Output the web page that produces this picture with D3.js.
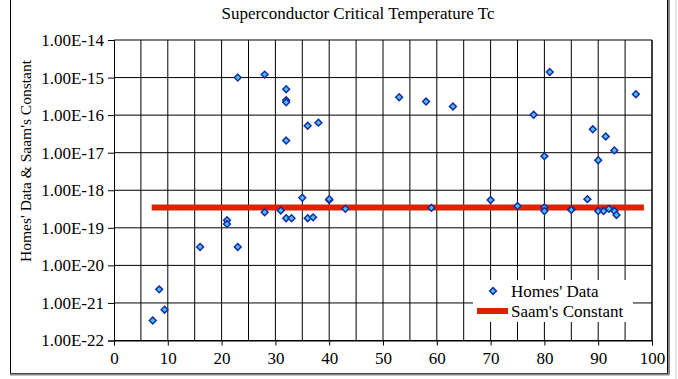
<!DOCTYPE html>
<html><head><meta charset="utf-8">
<script src="https://cdn.jsdelivr.net/npm/d3@7"></script>
<style>body{margin:0;background:#fff}svg{display:block}text{font-family:"Liberation Serif","Times New Roman",serif;fill:#000}</style>
</head><body><svg id="c" width="678" height="379"></svg>
<script>
const title = "Superconductor Critical Temperature Tc";
const yTitle = "Homes' Data & Saam's Constant";
const seriesNames = ["Homes' Data", "Saam's Constant"];
const homesX = [7.2, 8.4, 9.4, 16, 21, 21, 23, 23, 28, 28, 31, 32, 32, 32, 32, 32, 33, 35, 36, 36, 37, 38, 40, 40, 43, 53, 58, 59, 63, 70, 75, 78, 80, 80, 80, 81, 85, 85, 88, 89, 90, 90, 91, 91.4, 92, 93, 93, 93.4, 97];
const homesY = [3.4e-22, 2.3e-21, 6.6e-22, 3.1e-20, 1.6e-19, 1.26e-19, 3.1e-20, 1.0e-15, 1.2e-15, 2.6e-19, 2.9e-19, 4.9e-16, 2.5e-16, 2.2e-16, 2.1e-17, 1.8e-19, 1.8e-19, 6.3e-19, 5.2e-17, 1.8e-19, 1.9e-19, 6.3e-17, 5.5e-19, 5.8e-19, 3.2e-19, 3.0e-16, 2.3e-16, 3.4e-19, 1.7e-16, 5.5e-19, 3.8e-19, 1.02e-16, 8.1e-18, 3.5e-19, 2.8e-19, 1.4e-15, 3.1e-19, 3.0e-19, 5.8e-19, 4.2e-17, 6.3e-18, 2.8e-19, 2.8e-19, 2.7e-17, 3.2e-19, 1.15e-17, 2.8e-19, 2.2e-19, 3.6e-16];
const saamX = [7, 98.5];
const saamY = [3.5e-19, 3.5e-19];
const xTicks = [0, 10, 20, 30, 40, 50, 60, 70, 80, 90, 100];
const xGrid = [5, 10, 15, 20, 25, 30, 35, 40, 45, 50, 55, 60, 65, 70, 75, 80, 85, 90, 95, 100];
const yTicks = [1e-22, 1e-21, 1e-20, 1e-19, 1e-18, 1e-17, 1e-16, 1e-15, 1e-14];
const yTickLabels = ["1.00E-22", "1.00E-21", "1.00E-20", "1.00E-19", "1.00E-18", "1.00E-17", "1.00E-16", "1.00E-15", "1.00E-14"];

const FONT = '"Liberation Serif","Times New Roman",serif';
const svg = d3.select("#c");
const L = 114, R = 652, T = 40, B = 340.5;
const x = d3.scaleLinear().domain([0, 100]).range([L, R]);
const y = d3.scaleLog().domain([1e-22, 1e-14]).range([B, T]);

// outer frame
svg.append("rect").attr("x", 10.5).attr("y", -2).attr("width", 657).attr("height", 375.5)
  .attr("fill", "none").attr("stroke", "#000").attr("stroke-width", 1);
svg.append("line").attr("x1", 10).attr("x2", 669).attr("y1", 374.5).attr("y2", 374.5).attr("stroke", "#888").attr("stroke-width", 2);
svg.append("line").attr("x1", 669).attr("x2", 669).attr("y1", 0).attr("y2", 375).attr("stroke", "#888").attr("stroke-width", 2);
svg.append("line").attr("x1", 676).attr("x2", 676).attr("y1", 0).attr("y2", 379).attr("stroke", "#ccc").attr("stroke-width", 1);

// title
svg.append("text").attr("x", 358).attr("y", 19).attr("text-anchor", "middle")
  .attr("font-family", FONT).attr("font-size", 17).text(title);

// gridlines
const g = svg.append("g");
g.selectAll(".vg").data(xGrid).join("line")
  .attr("x1", d => x(d)).attr("x2", d => x(d)).attr("y1", T).attr("y2", B)
  .attr("stroke", "#000").attr("stroke-width", 1);
g.selectAll(".hg").data(yTicks).join("line")
  .attr("x1", L).attr("x2", R).attr("y1", d => y(d)).attr("y2", d => y(d))
  .attr("stroke", "#000").attr("stroke-width", 1);

// axes
const yAxis = d3.axisLeft(y).tickValues(yTicks).tickSize(6).tickPadding(4)
  .tickFormat((d, i) => yTickLabels[i]);
const ya = svg.append("g").attr("transform", `translate(${L},0)`).call(yAxis);
const xAxis = d3.axisBottom(x).tickValues(xTicks).tickSize(5).tickPadding(6).tickFormat(d3.format("d"));
const xa = svg.append("g").attr("transform", `translate(0,${B})`).call(xAxis);
[ya, xa].forEach(a => {
  a.attr("font-family", FONT).attr("font-size", 17);
  a.select(".domain").attr("stroke", "#000");
  a.selectAll("line").attr("stroke", "#000");
  a.selectAll("text").attr("fill", "#000");
});
svg.append("line").attr("x1", R).attr("x2", R).attr("y1", T).attr("y2", B).attr("stroke", "#000");

// y title
svg.append("text").attr("transform", `translate(31,161) rotate(-90)`).attr("text-anchor", "middle")
  .attr("font-family", FONT).attr("font-size", 15.5).text(yTitle);

// Saam's line
const line = d3.line().x(d => x(d[0])).y(d => y(d[1]));
svg.append("path").datum(d3.zip(saamX, saamY)).attr("d", line)
  .attr("stroke", "#dd2200").attr("stroke-width", 6).attr("fill", "none");

// markers (square diamond)
const r = 3.4;
const diamond = `M0,${-r}L${r},0L0,${r}L${-r},0Z`;
svg.append("g").selectAll("path").data(d3.zip(homesX, homesY)).join("path")
  .attr("d", diamond).attr("transform", d => `translate(${x(d[0])},${y(d[1])})`)
  .attr("fill", "#3fc6e6").attr("stroke", "#1a2aa8").attr("stroke-width", 1.5);

// legend
const lg = svg.append("g");
lg.append("rect").attr("x", 473).attr("y", 280).attr("width", 160).attr("height", 42).attr("fill", "#fff");
lg.append("path").attr("d", diamond).attr("transform", "translate(493,291)")
  .attr("fill", "#3fc6e6").attr("stroke", "#1a2aa8").attr("stroke-width", 1.5);
lg.append("text").attr("x", 511).attr("y", 297).attr("font-family", FONT).attr("font-size", 17).text(seriesNames[0]);
lg.append("line").attr("x1", 477).attr("x2", 508).attr("y1", 311).attr("y2", 311)
  .attr("stroke", "#dd2200").attr("stroke-width", 6);
lg.append("text").attr("x", 511).attr("y", 317).attr("font-family", FONT).attr("font-size", 17).text(seriesNames[1]);
</script></body></html>
